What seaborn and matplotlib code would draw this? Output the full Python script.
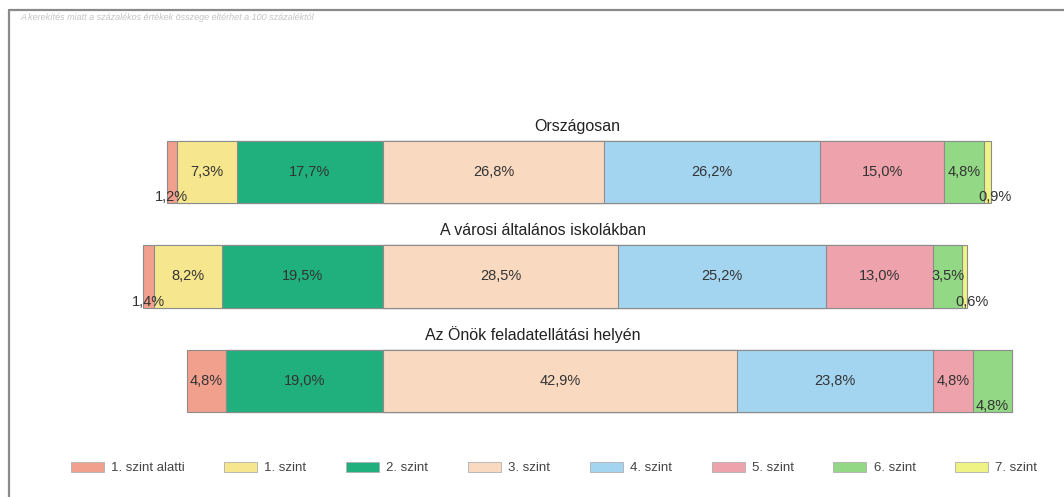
import numpy as np
import pandas as pd
import matplotlib
matplotlib.use("Agg")
import matplotlib.pyplot as plt
from matplotlib.patches import Patch
from matplotlib.lines import Line2D
import seaborn as sns

# --- data ---
levels = ["1. szint alatti", "1. szint", "2. szint", "3. szint",
          "4. szint", "5. szint", "6. szint", "7. szint"]
groups = ["Országosan", "A városi általános iskolákban",
          "Az Önök feladatellátási helyén"]
orszagos = [1.2, 7.3, 17.7, 26.8, 26.2, 15.0, 4.8, 0.9]
varosi = [1.4, 8.2, 19.5, 28.5, 25.2, 13.0, 3.5, 0.6]
telephely = [4.8, 0.0, 19.0, 42.9, 23.8, 4.8, 4.8, 0.0]
note = "A kerekítés miatt a százalékos értékek összege eltérhet a 100 százaléktól"

# --- styling ---
colors = ["#f2a08e", "#f6e68e", "#1fb07d", "#f9d9bf",
          "#a3d5f0", "#eea2ab", "#93d985", "#eff383"]
# label placement per bar: "c" centred, "b" below the bar, "br" below, nudged right
placement = [["b", "c", "c", "c", "c", "c", "c", "br"],
             ["b", "c", "c", "c", "c", "c", "c", "br"],
             ["c", "c", "c", "c", "c", "c", "b", "c"]]
title_x = [23.6, 19.4, 18.2]
split = 3  # levels below this index go to the left of zero

values = np.array([orszagos, varosi, telephely])

sns.set_style("white")
plt.rcParams["font.family"] = ["Liberation Sans", "DejaVu Sans"]

fig = plt.figure(figsize=(10.64, 4.97), dpi=100)
ax = fig.add_axes([0, 0, 1, 1])

# cumulative ends: left part runs negative, right part positive
rows = []
for gi, g in enumerate(groups):
    v = values[gi]
    for li in range(len(levels)):
        if li < split:
            end = -v[li:split].sum()
            start = -v[li + 1:split].sum()
        else:
            end = v[split:li + 1].sum()
            start = v[split:li].sum()
        rows.append(dict(group=g, level=levels[li], li=li, val=v[li],
                         start=start, end=end))
df = pd.DataFrame(rows)

# outermost segments first, inner ones drawn on top
order = list(range(split)) + list(range(len(levels) - 1, split - 1, -1))
for li in order:
    sub = df[df.li == li]
    sns.barplot(data=sub, x="end", y="group", order=groups, orient="h",
                color=colors[li], saturation=1, width=0.6,
                edgecolor="#8c8c8c", linewidth=0.8, ax=ax)

for gi, g in enumerate(groups):
    sub = df[df.group == g]
    for _, r in sub.iterrows():
        if r.val <= 0:
            continue
        pl = placement[gi][r.li]
        xc = (r.start + r.end) / 2 + (0.9 if pl == "br" else 0)
        lab = f"{r.val:.1f}%".replace(".", ",")
        yy = gi + (0.24 if pl.startswith("b") else 0)
        ax.text(xc, yy, lab, ha="center", va="center", fontsize=10.5,
                color="#333333")
    ax.text(title_x[gi], gi - 0.44, g, ha="center", va="center",
            fontsize=11.5, color="#222222")

px = 8.25
ax.set_xlim(-383 / px, (1064 - 383) / px)
ax.set_ylim((497 - 172) / 104.5, -172 / 104.5)
ax.axis("off")

# frame and footnote
fig.add_artist(Line2D([9 / 1064, 1], [1 - 10 / 497] * 2, color="#8a8a8a",
                      lw=1.6, transform=fig.transFigure))
fig.add_artist(Line2D([9 / 1064] * 2, [0, 1 - 10 / 497], color="#8a8a8a",
                      lw=1.6, transform=fig.transFigure))
fig.text(20 / 1064, 1 - 17 / 497, note, fontsize=6.5, color="#c4c4c4",
         style="italic", va="center")

handles = [Patch(facecolor=c, edgecolor="#b0b0b0", linewidth=0.6)
           for c in colors]
fig.legend(handles, levels, loc="center", ncol=8, frameon=False,
           bbox_to_anchor=(554 / 1064, 1 - 468 / 497), fontsize=9.5,
           handlelength=2.5, handleheight=0.85, handletextpad=0.55,
           columnspacing=3.0, labelcolor="#444444")

fig.savefig("out.png", dpi=100)
